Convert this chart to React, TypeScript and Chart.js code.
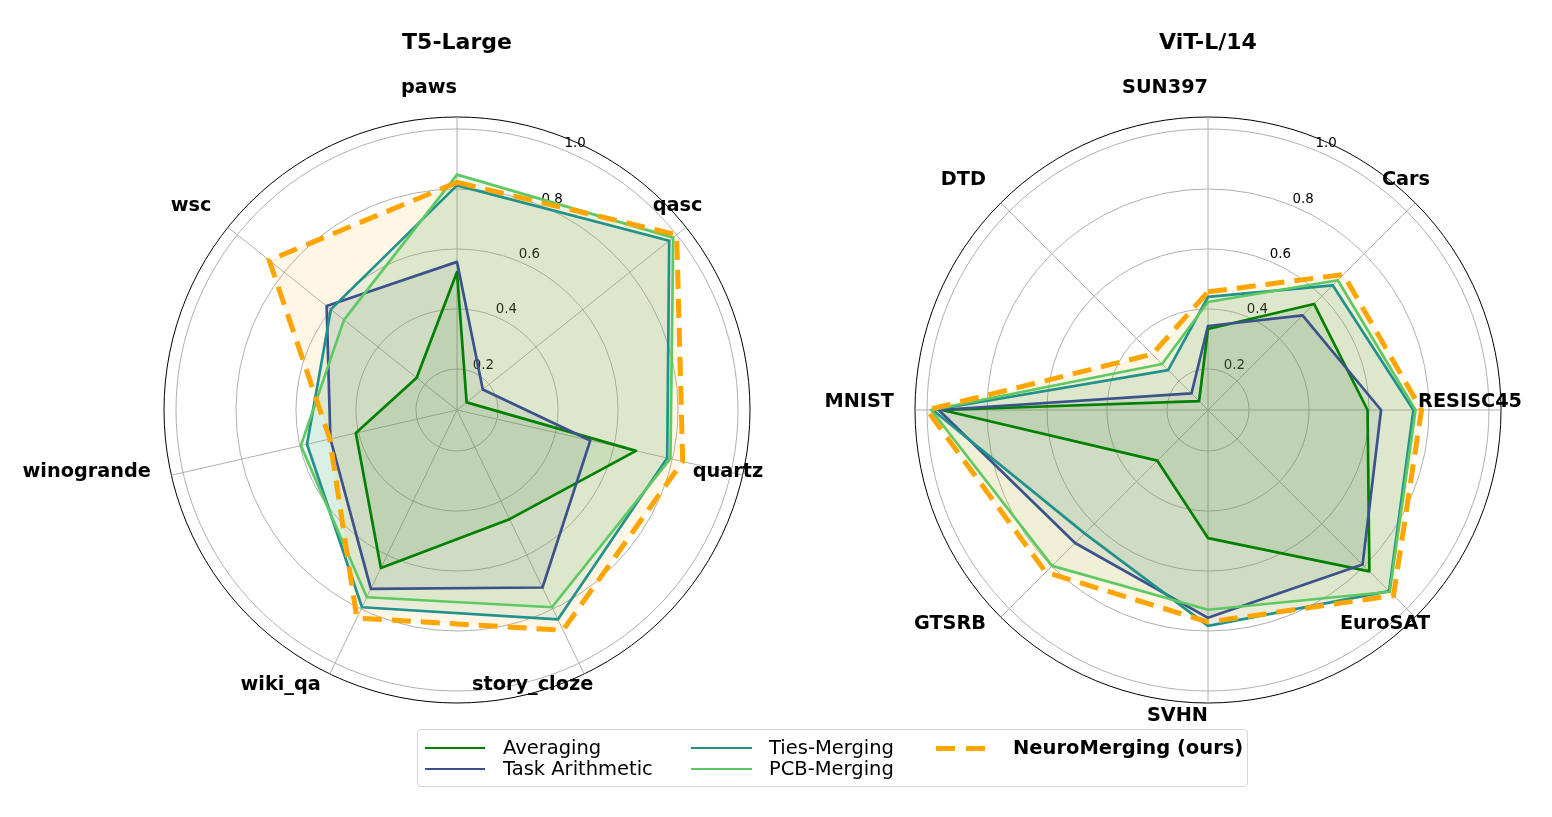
import React, { useEffect, useRef } from "react";
import { Chart, registerables } from "chart.js";

Chart.register(...registerables);

// ---------- data ----------
const seriesNames = ["Averaging", "Task Arithmetic", "Ties-Merging", "PCB-Merging", "NeuroMerging (ours)"];
const seriesColors = ["#008000", "#3b528b", "#21918c", "#5ec962", "#ffa500"];

const t5Title = "T5-Large";
const t5Labels = ["paws", "qasc", "quartz", "story_cloze", "wiki_qa", "winogrande", "wsc"];
const t5Averaging = [0.523, 0.104, 0.675, 0.467, 0.648, 0.409, 0.235];
const t5TaskArithmetic = [0.557, 0.173, 0.519, 0.72, 0.725, 0.496, 0.619];
const t5Ties = [0.812, 0.968, 0.782, 0.838, 0.793, 0.576, 0.601];
const t5PCB = [0.848, 0.985, 0.793, 0.793, 0.756, 0.597, 0.545];
const t5Neuro = [0.822, 1.0, 0.835, 0.878, 0.833, 0.498, 0.864];

const vitTitle = "ViT-L/14";
const vitLabels = ["SUN397", "Cars", "RESISC45", "EuroSAT", "SVHN", "GTSRB", "MNIST", "DTD"];
const vitAveraging = [0.333, 0.563, 0.595, 0.824, 0.49, 0.302, 0.95, 0.105];
const vitTaskArithmetic = [0.343, 0.509, 0.64, 0.792, 0.756, 0.69, 0.961, 0.141];
const vitTies = [0.44, 0.651, 0.748, 0.917, 0.783, 0.645, 0.981, 0.251];
const vitPCB = [0.423, 0.675, 0.755, 0.92, 0.729, 0.798, 0.986, 0.28];
const vitNeuro = [0.457, 0.702, 0.775, 0.938, 0.77, 0.828, 1.0, 0.326];

const tickValues = [0.2, 0.4, 0.6, 0.8, 1.0];
const tickLabels = ["0.2", "0.4", "0.6", "0.8", "1.0"];
const R_MIN = 0.063;
const R_MAX = 1.04;

// ---------- helpers ----------
const FONT = '"DejaVu Sans", "Liberation Sans", sans-serif';

function rgba(hex: string, a: number) {
  const n = parseInt(hex.slice(1), 16);
  return `rgba(${(n >> 16) & 255},${(n >> 8) & 255},${n & 255},${a})`;
}

function makeDatasets(values: number[][]) {
  const total = values.length;
  // translucent fills first (underneath), then the outlines on top
  const fills = values.map((data, i) => ({
    label: seriesNames[i] + " fill",
    data,
    borderColor: "rgba(0,0,0,0)",
    backgroundColor: rgba(seriesColors[i], 0.1),
    fill: true,
    pointRadius: 0,
    pointHoverRadius: 0,
    borderWidth: 0,
    order: 100 + (total - 1 - i),
  }));
  const lines = values.map((data, i) => {
    const isOurs = i === total - 1;
    return {
      label: seriesNames[i],
      data,
      borderColor: seriesColors[i],
      backgroundColor: "rgba(0,0,0,0)",
      fill: false,
      pointRadius: 0,
      pointHoverRadius: 0,
      borderWidth: isOurs ? 5 : 2.7,
      borderDash: isOurs ? [19, 10] : [],
      borderCapStyle: "butt",
      borderJoinStyle: isOurs ? "miter" : "round",
      order: total - 1 - i,
    };
  });
  return [...fills, ...lines];
}

function decorPlugin(title: string) {
  return {
    id: "decor",
    beforeDatasetsDraw(chart: any) {
      const s = chart.scales.r;
      const ctx = chart.ctx;
      ctx.save();
      ctx.font = `13.4px ${FONT}`;
      ctx.fillStyle = "#000";
      ctx.textAlign = "left";
      ctx.textBaseline = "bottom";
      const a = (22.5 * Math.PI) / 180;
      tickValues.forEach((v, i) => {
        const r = s.getDistanceFromCenterForValue(v);
        ctx.fillText(tickLabels[i], s.xCenter + r * Math.sin(a), s.yCenter - r * Math.cos(a));
      });
      ctx.restore();
    },
    afterDraw(chart: any) {
      const s = chart.scales.r;
      const ctx = chart.ctx;
      const labels: string[] = chart.data.labels;
      const n = labels.length;
      const R = s.drawingArea + 21;
      ctx.save();
      ctx.fillStyle = "#000";
      ctx.font = `bold 19.3px ${FONT}`;
      ctx.textAlign = "right";
      ctx.textBaseline = "alphabetic";
      labels.forEach((lab, i) => {
        const ang = (2 * Math.PI * i) / n;
        const x = s.xCenter + R * Math.sin(ang);
        const y = s.yCenter - R * Math.cos(ang) - 3;
        ctx.fillText(lab, x, y);
      });
      ctx.font = `bold 22px ${FONT}`;
      ctx.textAlign = "center";
      ctx.fillText(title, s.xCenter, 49);
      ctx.restore();
    },
  };
}

const CANVAS_W = 776;
const CANVAS_H = 725;

function RadarPanel(props: {
  title: string;
  labels: string[];
  values: number[][];
  left: number;
  padding: { left: number; right: number; top: number; bottom: number };
}) {
  const ref = useRef<HTMLCanvasElement>(null);
  useEffect(() => {
    const chart = new Chart(ref.current as HTMLCanvasElement, {
      type: "radar",
      data: { labels: props.labels, datasets: makeDatasets(props.values) as any },
      options: {
        responsive: false,
        animation: false,
        devicePixelRatio: 1,
        layout: { padding: props.padding },
        plugins: { legend: { display: false }, tooltip: { enabled: false }, title: { display: false } },
        elements: { line: { tension: 0 } },
        scales: {
          r: {
            min: R_MIN,
            max: R_MAX,
            afterBuildTicks: (axis: any) => {
              axis.ticks = [R_MIN, ...tickValues, R_MAX].map((v) => ({ value: v }));
            },
            ticks: { display: false },
            pointLabels: { display: false },
            grid: {
              circular: true,
              color: (c: any) => (c.index === tickValues.length + 1 ? "#000000" : "#b0b0b0"),
              lineWidth: 1,
            },
            angleLines: { color: "#b0b0b0", lineWidth: 1 },
          } as any,
        },
      } as any,
      plugins: [decorPlugin(props.title)],
    });
    return () => chart.destroy();
  }, []);
  return (
    <canvas
      ref={ref}
      width={CANVAS_W}
      height={CANVAS_H}
      style={{ position: "absolute", left: props.left, top: 0, width: CANVAS_W, height: CANVAS_H }}
    />
  );
}

function Legend() {
  const colX = [
    { line: 425, lineW: 60, text: 503 },
    { line: 691, lineW: 61, text: 769 },
    { line: 936, lineW: 50, text: 1013 },
  ];
  const rowY = [748, 769];
  const items = seriesNames.map((name, i) => {
    const col = Math.floor(i / 2);
    const row = i % 2;
    return { name, color: seriesColors[i], col, row, ours: i === seriesNames.length - 1 };
  });
  return (
    <div style={{ position: "absolute", left: 0, top: 0, width: 1552, height: 817, pointerEvents: "none" }}>
      <div
        style={{
          position: "absolute",
          left: 417,
          top: 729,
          width: 831,
          height: 58,
          boxSizing: "border-box",
          border: "1px solid #d6d6d6",
          borderRadius: 4,
          background: "rgba(255,255,255,0.8)",
        }}
      />
      {items.map((it) => {
        const c = colX[it.col];
        const y = rowY[it.row];
        const lw = it.ours ? 5 : 2.7;
        return (
          <React.Fragment key={it.name}>
            <div
              style={{
                position: "absolute",
                left: c.line,
                top: y - lw / 2,
                width: c.lineW,
                height: lw,
                background: it.ours
                  ? `repeating-linear-gradient(to right, ${it.color} 0px, ${it.color} 19px, transparent 19px, transparent 30px)`
                  : it.color,
              }}
            />
            <div
              style={{
                position: "absolute",
                left: c.text,
                top: y - 11,
                height: 22,
                lineHeight: "22px",
                fontFamily: FONT,
                fontSize: "19.5px",
                fontWeight: it.ours ? "bold" : "normal",
                color: "#000",
                whiteSpace: "nowrap",
              }}
            >
              {it.name}
            </div>
          </React.Fragment>
        );
      })}
    </div>
  );
}

export default function App() {
  return (
    <div style={{ position: "absolute", left: 0, top: 0, width: 1552, height: 817, background: "#fff", overflow: "hidden" }}>
      <RadarPanel
        title={t5Title}
        labels={t5Labels}
        values={[t5Averaging, t5TaskArithmetic, t5Ties, t5PCB, t5Neuro]}
        left={0}
        padding={{ left: 164, right: CANVAS_W - 164 - 586, top: 117, bottom: CANVAS_H - 117 - 586 }}
      />
      <RadarPanel
        title={vitTitle}
        labels={vitLabels}
        values={[vitAveraging, vitTaskArithmetic, vitTies, vitPCB, vitNeuro]}
        left={776}
        padding={{ left: 1208 - 776 - 293, right: CANVAS_W - (1208 - 776 - 293) - 586, top: 117, bottom: CANVAS_H - 117 - 586 }}
      />
      <Legend />
    </div>
  );
}
